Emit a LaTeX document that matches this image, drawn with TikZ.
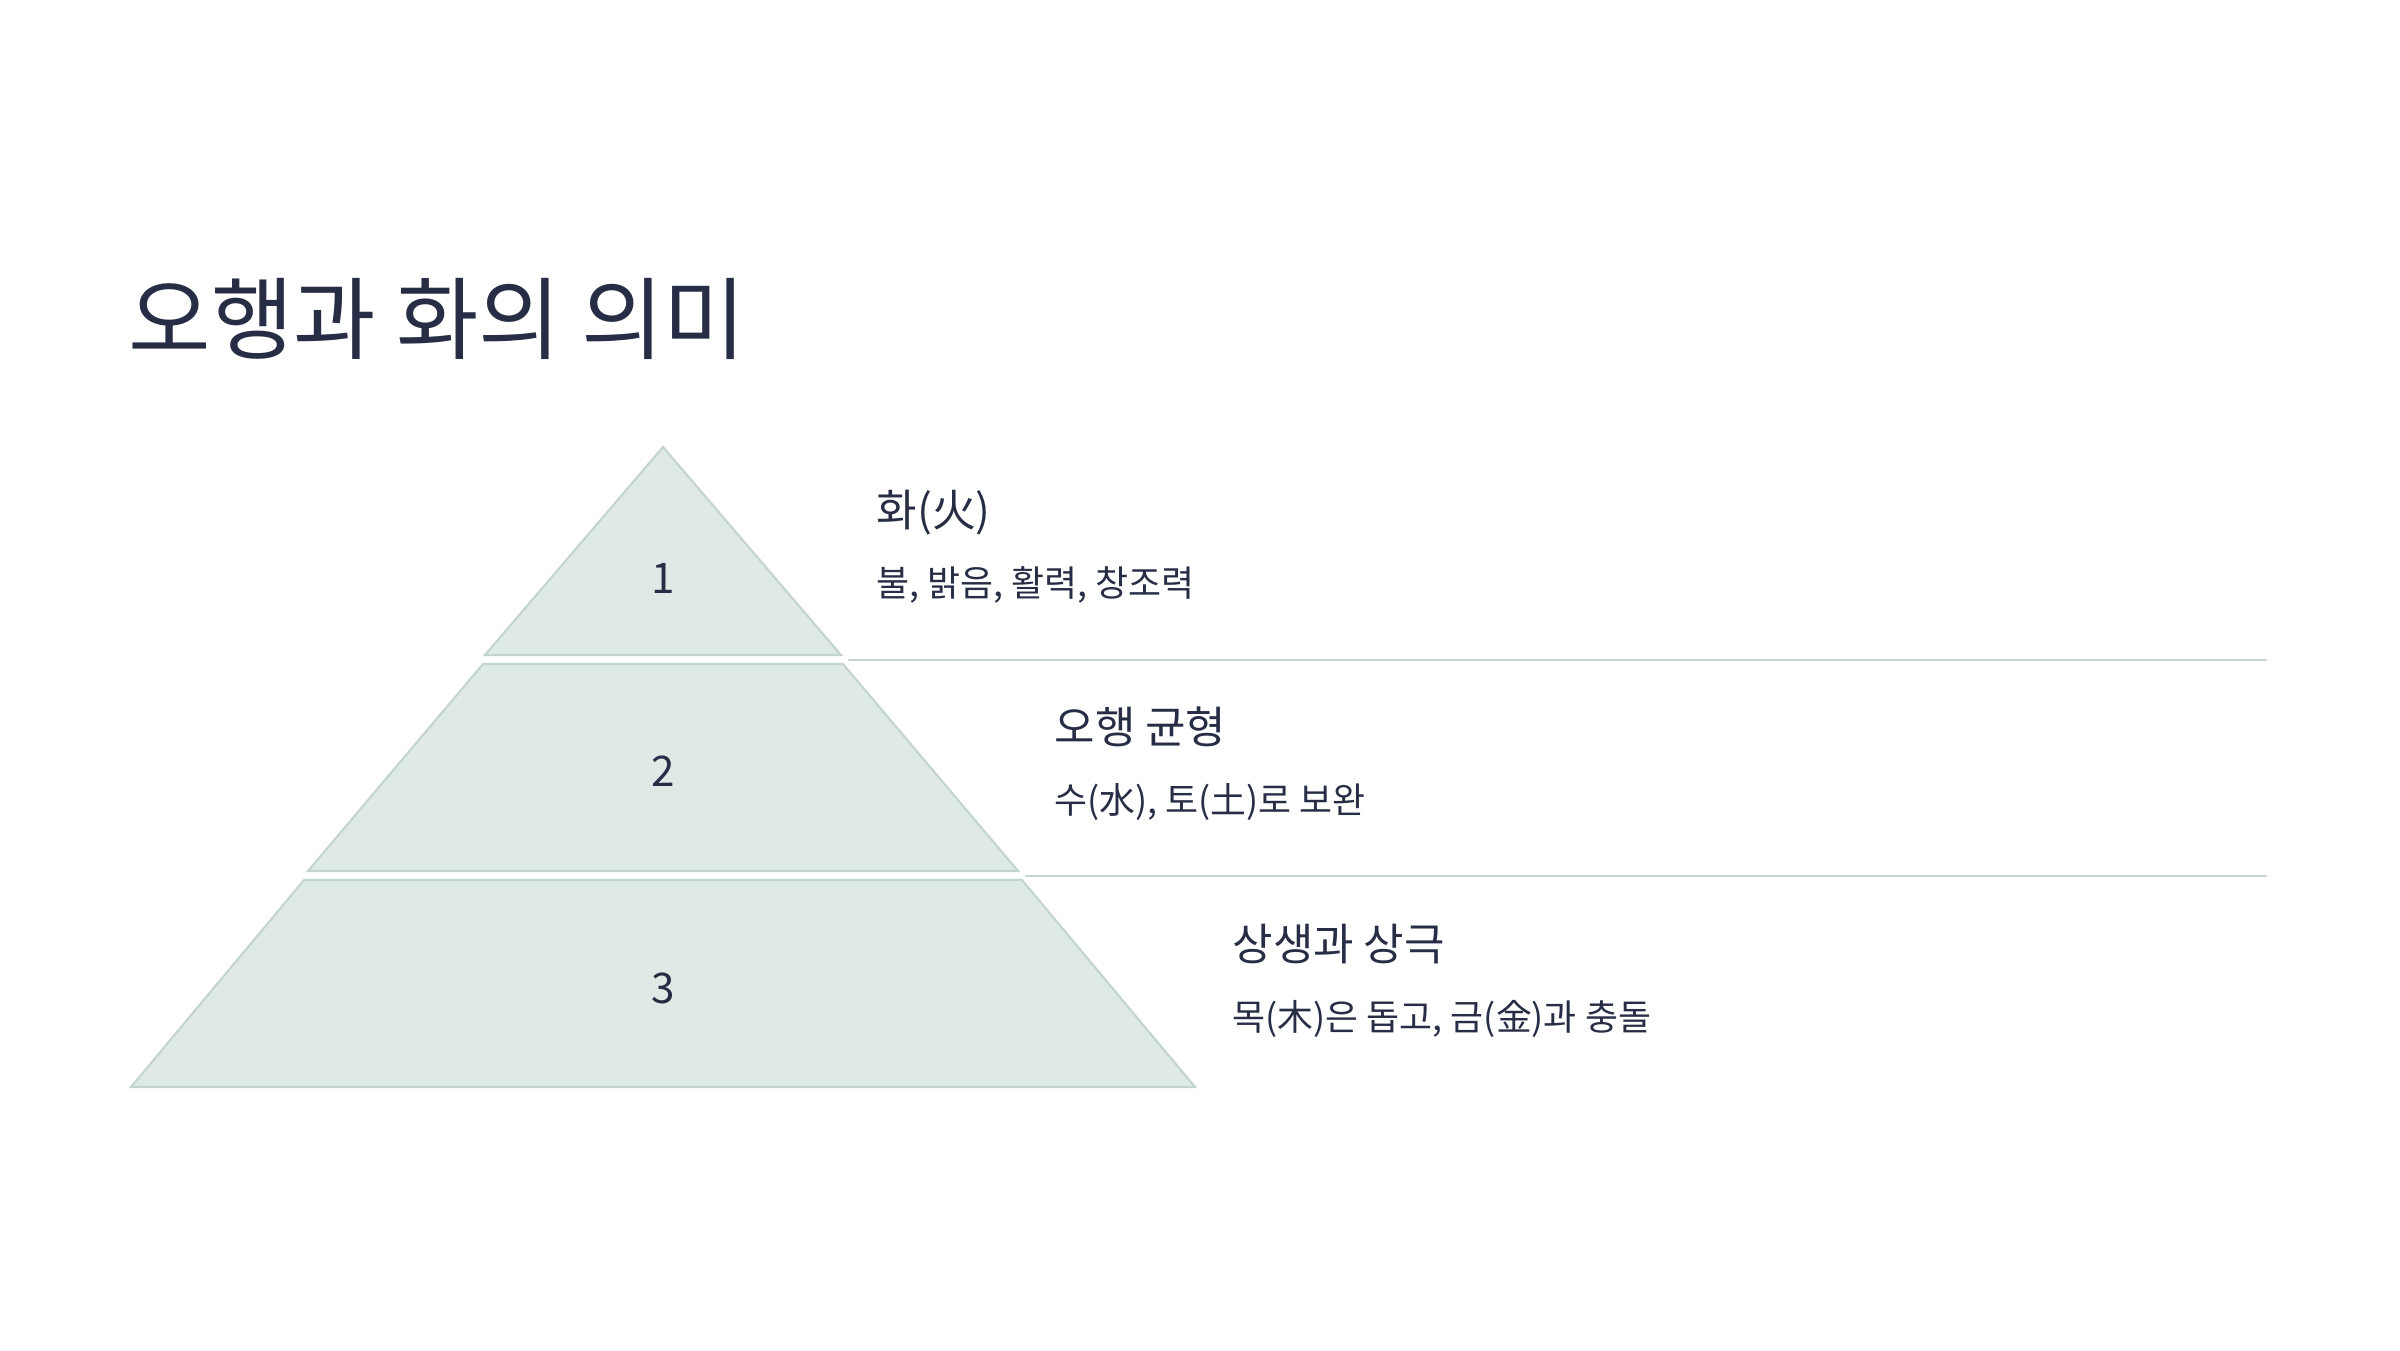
\documentclass[tikz,border=0pt]{standalone}
\usepackage{fontspec}
\setmainfont{Noto Sans CJK KR}
\usepackage{xcolor}
\usetikzlibrary{positioning,calc}
\definecolor{ink}{HTML}{272D45}
\definecolor{layerfill}{HTML}{DFEAE7}
\definecolor{layerline}{HTML}{C4D4CF}
\tikzset{%
        layer/.style = { fill=layerfill, draw=layerline, line width=0.6pt, line join=miter },
          sep/.style = { draw=layerline, line width=0.6pt },
        title/.style = { anchor=base west, text=ink, font=\fontsize{25.5}{30}\selectfont, inner sep=0pt },
          num/.style = { text=ink, font=\fontsize{12}{14}\selectfont, inner sep=0pt },
         head/.style = { anchor=base west, text=ink, font=\fontsize{12.5}{15}\selectfont, inner sep=0pt },
         desc/.style = { anchor=base west, text=ink, font=\fontsize{10.2}{12}\selectfont, inner sep=0pt }
}
\begin{document}
\begin{tikzpicture}[x=0.01cm,y=-0.01cm,line cap=round]
\useasboundingbox (0,0) rectangle (2400,1350);
\node[title] (title) at (128,352) {오행과 화의 의미};
% layers: top y, bottom y, top half width, bottom half width
\foreach \i/\ya/\yb/\wa/\wb in {1/447/655/0/178, 2/664/871/180/355, 3/880/1087/359/532}{
  \coordinate (tl\i) at (663-\wa,\ya);
  \coordinate (tr\i) at (663+\wa,\ya);
  \coordinate (bl\i) at (663-\wb,\yb);
  \coordinate (br\i) at (663+\wb,\yb);
  \draw[layer] (tl\i) -- (tr\i) -- (br\i) -- (bl\i) -- cycle;
}
\node[num] (n1) at (663,578) {1};
\node[num] (n2) at (663,771) {2};
\node[num] (n3) at (663,988) {3};
\coordinate (s1a) at (849,660);  \coordinate (s1b) at (2266,660);
\coordinate (s2a) at (1026,876); \coordinate (s2b) at (2266,876);
\draw[sep] (s1a) -- (s1b);
\draw[sep] (s2a) -- (s2b);
\node[head] (h1) at (876,526) {화(火)};
\node[desc] (d1) at (876,596) {불, 밝음, 활력, 창조력};
\node[head] (h2) at (1054,743) {오행 균형};
\node[desc] (d2) at (1054,813) {수(水), 토(土)로 보완};
\node[head] (h3) at (1232,960) {상생과 상극};
\node[desc] (d3) at (1232,1030) {목(木)은 돕고, 금(金)과 충돌};
\end{tikzpicture}
\end{document}
